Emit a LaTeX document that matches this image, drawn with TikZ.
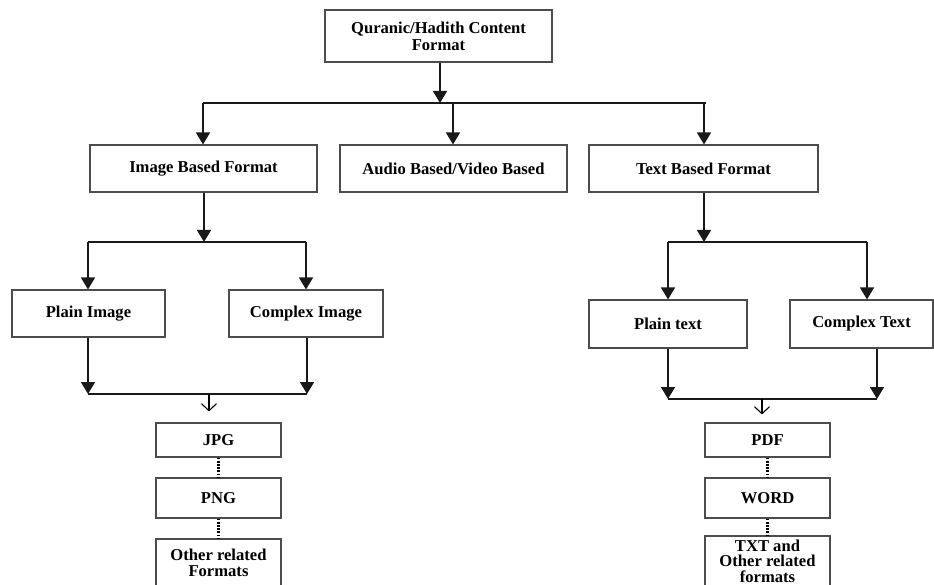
\documentclass[tikz,border=0pt]{standalone}
\usepackage{fontspec}
\setmainfont{Liberation Serif}
\usetikzlibrary{arrows.meta}
\begin{document}
\begin{tikzpicture}[x=1pt,y=-1pt,
  box/.style={draw=black!70, line width=1.1pt, fill=white, inner sep=0pt, align=center,
    font=\bfseries\fontsize{16.6}{17}\selectfont},
  conn/.style={line width=1.7pt, draw=black!90},
  arr/.style={conn, -{Triangle[width=14pt,length=12pt]}},
  openarr/.style={line width=1.1pt, -{Straight Barb[width=15pt,length=7pt,line width=1.1pt]}},
  dotline/.style={line width=2.4pt, draw=black, dash pattern=on 1.8pt off 1.4pt}]
\clip (0,0) rectangle (934,585);
\useasboundingbox (0,0) rectangle (934,585);
% nodes
\node[box, minimum width=227pt, minimum height=52pt] (top) at (438.5,36) {Quranic/Hadith Content\\Format};
\node[box, minimum width=227pt, minimum height=47pt] (img) at (203.5,168.5) {Image Based Format};
\node[box, minimum width=227pt, minimum height=47pt] (aud) at (453.5,168.5) {Audio Based/Video Based};
\node[box, minimum width=229pt, minimum height=47pt] (txt) at (703.5,168.5) {Text Based Format};
\node[box, minimum width=153pt, minimum height=47pt] (pimg) at (88.5,313.5) {Plain Image};
\node[box, minimum width=154pt, minimum height=47pt] (cimg) at (306,313.5) {Complex Image};
\node[box, minimum width=158pt, minimum height=48pt] (ptxt) at (668,324) {Plain text};
\node[box, minimum width=143pt, minimum height=48pt] (ctxt) at (861.5,324) {Complex Text\strut};
\node[box, minimum width=125pt, minimum height=34pt] (jpg) at (218.5,440) {JPG};
\node[box, minimum width=125pt, minimum height=40pt] (png) at (218.5,498) {PNG};
\node[box, minimum width=125pt, minimum height=48pt, font=\bfseries\fontsize{16.6}{16}\selectfont] (oth) at (218.5,563) {Other related\\Formats};
\node[box, minimum width=125pt, minimum height=34pt] (pdf) at (767.5,440) {PDF};
\node[box, minimum width=125pt, minimum height=40pt] (word) at (767.5,498) {WORD};
\node[box, minimum width=125pt, minimum height=50pt, font=\bfseries\fontsize{16.6}{15.5}\selectfont] (tx) at (767.5,561) {TXT and\\Other related\\formats};
% bus coordinates
\coordinate (t0) at (440,103);
\coordinate (tL) at (203,103);
\coordinate (tM) at (453,103);
\coordinate (tR) at (704,103);
\coordinate (tE) at (706,103);
\coordinate (i0) at (204,242);
\coordinate (iL) at (88,242);
\coordinate (iR) at (306,242);
\coordinate (bL) at (88,394);
\coordinate (bR) at (307,394);
\coordinate (bM) at (209,394);
\coordinate (x0) at (704,242);
\coordinate (xL) at (668,242);
\coordinate (xR) at (867,242);
\coordinate (cL) at (668,399);
\coordinate (cR) at (877,399);
\coordinate (cM) at (762,399);
% top level
\draw[arr] (top.south -| t0) -- (t0);
\draw[conn] (tL) -- (tE);
\draw[arr] (tL) -- (tL |- img.north);
\draw[arr] (tM) -- (tM |- aud.north);
\draw[arr] (tR) -- (tR |- txt.north);
% image branch
\draw[arr] (img.south -| i0) -- (i0);
\draw[conn] (iL) -- (iR);
\draw[arr] (iL) -- (iL |- pimg.north);
\draw[arr] (iR) -- (iR |- cimg.north);
\draw[arr] (pimg.south -| bL) -- (bL);
\draw[arr] (cimg.south -| bR) -- (bR);
\draw[conn] (bL) -- (bR);
\draw[openarr, shorten >=11pt] (bM) -- (bM |- jpg.north);
\draw[dotline] (jpg.south) -- (png.north);
\draw[dotline] (png.south) -- (oth.north);
% text branch
\draw[arr] (txt.south -| x0) -- (x0);
\draw[conn] (xL) -- (xR);
\draw[arr] (xL) -- (xL |- ptxt.north);
\draw[arr] (xR) -- (xR |- ctxt.north);
\draw[arr] (ptxt.south -| cL) -- (cL);
\draw[arr] (ctxt.south -| cR) -- (cR);
\draw[conn] (cL) -- (cR);
\draw[openarr, shorten >=8pt] (cM) -- (cM |- pdf.north);
\draw[dotline] (pdf.south) -- (word.north);
\draw[dotline] (word.south) -- (tx.north);
\end{tikzpicture}
\end{document}
